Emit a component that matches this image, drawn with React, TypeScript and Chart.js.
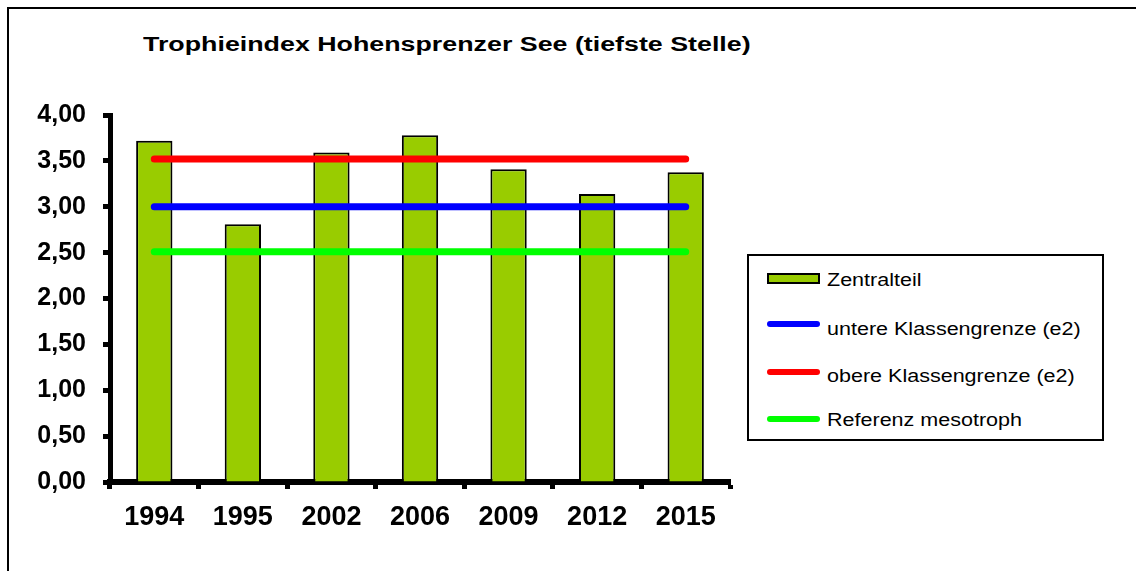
import React, { useEffect, useRef } from "react";
import { Chart, registerables } from "chart.js";

Chart.register(...registerables);

const TITLE = "Trophieindex Hohensprenzer See (tiefste Stelle)";
const years = ["1994", "1995", "2002", "2006", "2009", "2012", "2015"];
const zentralteil = [3.72, 2.81, 3.59, 3.78, 3.41, 3.14, 3.375];
const untereGrenze = [3.0, 3.0, 3.0, 3.0, 3.0, 3.0, 3.0];
const obereGrenze = [3.52, 3.52, 3.52, 3.52, 3.52, 3.52, 3.52];
const referenz = [2.51, 2.51, 2.51, 2.51, 2.51, 2.51, 2.51];
const yTicks = [0, 0.5, 1, 1.5, 2, 2.5, 3, 3.5, 4];

const seriesNames = ["Zentralteil", "untere Klassengrenze (e2)", "obere Klassengrenze (e2)", "Referenz mesotroph"];
const seriesColors = ["#99CC00", "#0000FF", "#FF0000", "#00FF00"];

const FONT = '"Liberation Sans", Arial, Helvetica, sans-serif';

export default function App() {
  const canvasRef = useRef<HTMLCanvasElement | null>(null);

  useEffect(() => {
    if (!canvasRef.current) return;
    const lineSeries = [untereGrenze, obereGrenze, referenz];
    const chart = new Chart(canvasRef.current, {
      type: "bar",
      data: {
        labels: years,
        datasets: [
          {
            type: "bar",
            label: seriesNames[0],
            data: zentralteil,
            backgroundColor: seriesColors[0],
            borderColor: "#000000",
            borderWidth: 2,
            barPercentage: 0.41,
            categoryPercentage: 1,
            order: 2,
          },
          ...lineSeries.map((d, i) => ({
            type: "line" as const,
            label: seriesNames[i + 1],
            data: d,
            borderColor: seriesColors[i + 1],
            backgroundColor: seriesColors[i + 1],
            borderWidth: 7,
            borderCapStyle: "round" as const,
            pointRadius: 0,
            pointHoverRadius: 0,
            fill: false,
            order: 1,
          })),
        ],
      },
      options: {
        animation: false,
        responsive: true,
        maintainAspectRatio: false,
        layout: { padding: { top: 115, left: 0, right: 406, bottom: 0 } },
        plugins: {
          legend: { display: false },
          title: { display: false },
          tooltip: { enabled: false },
        },
        scales: {
          x: {
            offset: true,
            grid: {
              display: true,
              offset: true,
              drawOnChartArea: false,
              drawTicks: true,
              tickLength: 7,
              tickWidth: 5,
              tickColor: "#000000",
            },
            border: { display: true, width: 6, color: "#000000" },
            ticks: {
              color: "#000000",
              font: { family: FONT, size: 27, weight: "bold" },
              padding: 12,
              maxRotation: 0,
              autoSkip: false,
            },
            afterFit: (scale: any) => {
              scale.height = 89;
            },
          },
          y: {
            min: 0,
            max: 4,
            afterBuildTicks: (scale: any) => {
              scale.ticks = yTicks.map((v) => ({ value: v }));
            },
            grid: {
              display: true,
              drawOnChartArea: false,
              drawTicks: true,
              tickLength: 7,
              tickWidth: 5,
              tickColor: "#000000",
            },
            border: { display: true, width: 5, color: "#000000" },
            ticks: {
              color: "#000000",
              font: { family: FONT, size: 25, weight: "bold" },
              padding: 17,
              callback: (v: any) => Number(v).toFixed(2).replace(".", ","),
            },
            afterFit: (scale: any) => {
              scale.width = 110;
            },
          },
        },
      },
    });
    return () => chart.destroy();
  }, []);

  const legendRows = [
    { textBaseline: 288, swatchY: 278.5 },
    { textBaseline: 337, swatchY: 324 },
    { textBaseline: 384, swatchY: 372 },
    { textBaseline: 428, swatchY: 419 },
  ];

  return (
    <div style={{ position: "fixed", left: 0, top: 0, width: 1136, height: 571, overflow: "hidden", background: "#fff" }}>
      <div
        style={{
          position: "absolute",
          left: 7,
          top: 7,
          width: 1200,
          height: 700,
          borderLeft: "2px solid #000",
          borderTop: "2px solid #000",
          boxSizing: "border-box",
        }}
      />
      <div
        style={{
          position: "absolute",
          left: 143,
          top: 34,
          fontFamily: FONT,
          fontWeight: "bold",
          fontSize: 20,
          lineHeight: "20px",
          whiteSpace: "nowrap",
          color: "#000",
          transform: "scaleX(1.34)",
          transformOrigin: "0 0",
        }}
      >
        {TITLE}
      </div>
      <div style={{ position: "absolute", left: 0, top: 0, width: 1136, height: 571 }}>
        <canvas ref={canvasRef} />
      </div>
      <div
        style={{
          position: "absolute",
          left: 747,
          top: 254,
          width: 357,
          height: 187,
          border: "2px solid #000",
          boxSizing: "border-box",
          background: "#fff",
        }}
      />
      {seriesNames.map((name, i) => {
        const row = legendRows[i];
        return (
          <React.Fragment key={name}>
            {i === 0 ? (
              <div
                style={{
                  position: "absolute",
                  left: 767,
                  top: 273,
                  width: 53,
                  height: 11,
                  background: seriesColors[0],
                  border: "2px solid #000",
                  boxSizing: "border-box",
                }}
              />
            ) : (
              <div
                style={{
                  position: "absolute",
                  left: 767,
                  top: row.swatchY - 3,
                  width: 53,
                  height: 6,
                  borderRadius: 3,
                  background: seriesColors[i],
                }}
              />
            )}
            <div
              style={{
                position: "absolute",
                left: 827,
                top: row.textBaseline - 15.8,
                fontFamily: FONT,
                fontSize: 17.5,
                lineHeight: "17.5px",
                whiteSpace: "nowrap",
                color: "#000",
                transform: "scaleX(1.23)",
                transformOrigin: "0 0",
              }}
            >
              {name}
            </div>
          </React.Fragment>
        );
      })}
    </div>
  );
}
